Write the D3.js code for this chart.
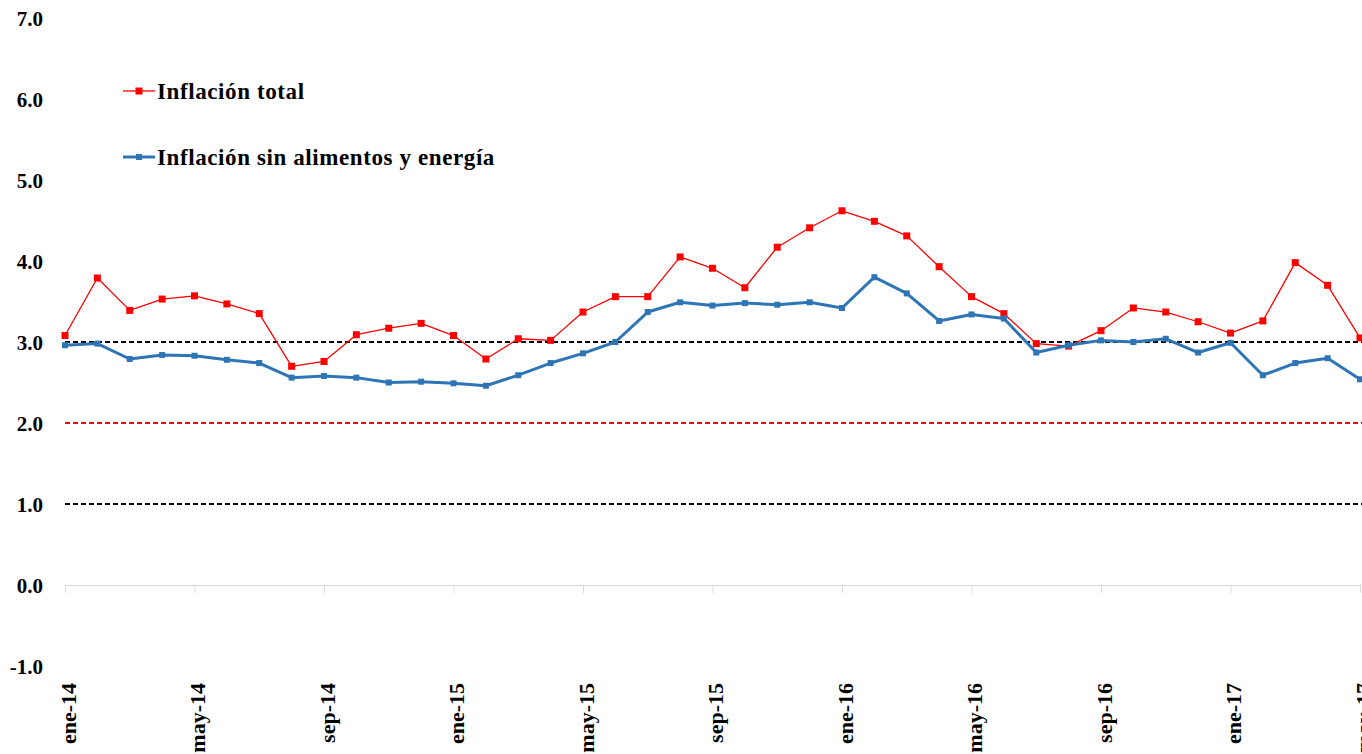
<!DOCTYPE html>
<html>
<head>
<meta charset="utf-8">
<script src="https://cdn.jsdelivr.net/npm/d3@7"></script>
<style>
  body { margin: 0; background: #fff; }
  svg { display: block; }
  .lbl { font-family: "Liberation Serif", "Times New Roman", serif; font-weight: bold; fill: #000; }
</style>
</head>
<body>
<div id="chart"></div>
<script>
var months = ["ene-14","feb-14","mar-14","abr-14","may-14","jun-14","jul-14","ago-14","sep-14","oct-14","nov-14","dic-14",
              "ene-15","feb-15","mar-15","abr-15","may-15","jun-15","jul-15","ago-15","sep-15","oct-15","nov-15","dic-15",
              "ene-16","feb-16","mar-16","abr-16","may-16","jun-16","jul-16","ago-16","sep-16","oct-16","nov-16","dic-16",
              "ene-17","feb-17","mar-17","abr-17","may-17"];

var inflacionTotal = [3.08,3.79,3.39,3.53,3.57,3.47,3.35,2.70,2.76,3.09,3.17,3.23,
                      3.08,2.79,3.04,3.02,3.37,3.56,3.56,4.05,3.91,3.67,4.17,4.41,
                      4.62,4.49,4.31,3.93,3.56,3.35,2.98,2.95,3.14,3.42,3.37,3.25,
                      3.11,3.26,3.98,3.70,3.05];

var inflacionSub = [2.96,2.98,2.79,2.84,2.83,2.78,2.74,2.56,2.58,2.56,2.50,2.51,
                    2.49,2.46,2.59,2.74,2.86,3.00,3.37,3.49,3.45,3.48,3.46,3.49,
                    3.42,3.80,3.60,3.26,3.34,3.29,2.87,2.96,3.02,3.00,3.04,2.87,
                    2.99,2.59,2.74,2.80,2.54];

var yTicks = [-1, 0, 1, 2, 3, 4, 5, 6, 7];
var xTickIdx = [0, 4, 8, 12, 16, 20, 24, 28, 32, 36, 40];

// banda de meta: 3% +/- 1
var refLines = [
    { v: 3, color: "#000" },
    { v: 2, color: "#ff0000" },
    { v: 1, color: "#000" }
];

var seriesNames = ["Inflación total", "Inflación sin alimentos y energía"];

var width = 1362, height = 754;

var svg = d3.select("#chart").append("svg")
    .attr("width", width)
    .attr("height", height);

var x = d3.scaleLinear().domain([0, months.length - 1]).range([65, 1360]);
var y = d3.scaleLinear().domain([-1, 7]).range([666, 18]);

// eje y (solo etiquetas)
var yAxis = svg.append("g")
    .attr("transform", "translate(43,0)")
    .call(d3.axisLeft(y).tickValues(yTicks).tickSize(0).tickPadding(0)
          .tickFormat(function (d) { return d.toFixed(1); }));
yAxis.select(".domain").remove();
yAxis.selectAll("text")
    .attr("class", "lbl")
    .style("font-size", "21px")
    .attr("dy", "0.34em");

// eje x en cero
var xAxis = svg.append("g")
    .attr("transform", "translate(0," + y(0) + ")")
    .call(d3.axisBottom(x).tickValues(xTickIdx).tickSize(8).tickSizeOuter(0)
          .tickFormat(function (i) { return months[i]; }));
xAxis.select(".domain").attr("stroke", "#d9d9d9");
xAxis.selectAll(".tick line").attr("stroke", "#d9d9d9");
xAxis.append("line")
    .attr("x1", x(40)).attr("x2", width)
    .attr("stroke", "#d9d9d9");
xAxis.selectAll("text")
    .attr("class", "lbl")
    .style("font-size", "22px")
    .attr("text-anchor", "end")
    .attr("transform", "rotate(-90)")
    .attr("x", -(683 - y(0)))
    .attr("y", 10)
    .attr("dy", 0);

// lineas de referencia
svg.append("g").selectAll("line")
    .data(refLines)
    .enter().append("line")
    .attr("x1", x(0)).attr("x2", width)
    .attr("y1", function (d) { return y(d.v); })
    .attr("y2", function (d) { return y(d.v); })
    .attr("stroke", function (d) { return d.color; })
    .attr("stroke-width", 2)
    .attr("stroke-dasharray", "5,3");

var line = d3.line()
    .x(function (d, i) { return x(i); })
    .y(function (d) { return y(d); });

function drawSeries (data, color, lw, ms) {
    var g = svg.append("g");
    g.append("path")
        .datum(data)
        .attr("fill", "none")
        .attr("stroke", color)
        .attr("stroke-width", lw)
        .attr("stroke-linejoin", "round")
        .attr("d", line);
    g.selectAll("rect")
        .data(data)
        .enter().append("rect")
        .attr("x", function (d, i) { return x(i) - ms / 2; })
        .attr("y", function (d) { return y(d) - ms / 2; })
        .attr("width", ms)
        .attr("height", ms)
        .attr("fill", color);
}

drawSeries(inflacionTotal, "#ff0000", 1.3, 7);
drawSeries(inflacionSub, "#2e75b6", 3, 6);

// leyenda
var legend = [
    { name: seriesNames[0], color: "#ff0000", lw: 1.3, ms: 7, y: 91 },
    { name: seriesNames[1], color: "#2e75b6", lw: 3, ms: 6, y: 157 }
];
var lg = svg.append("g").selectAll("g")
    .data(legend)
    .enter().append("g")
    .attr("transform", function (d) { return "translate(0," + d.y + ")"; });
lg.append("line")
    .attr("x1", 123).attr("x2", 155)
    .attr("stroke", function (d) { return d.color; })
    .attr("stroke-width", function (d) { return d.lw; });
lg.append("rect")
    .attr("x", function (d) { return 139 - d.ms / 2; })
    .attr("y", function (d) { return -d.ms / 2; })
    .attr("width", function (d) { return d.ms; })
    .attr("height", function (d) { return d.ms; })
    .attr("fill", function (d) { return d.color; });
lg.append("text")
    .attr("class", "lbl")
    .attr("x", 157)
    .attr("y", 8)
    .style("font-size", "23px")
    .style("letter-spacing", "0.6px")
    .text(function (d) { return d.name; });
</script>
</body>
</html>
